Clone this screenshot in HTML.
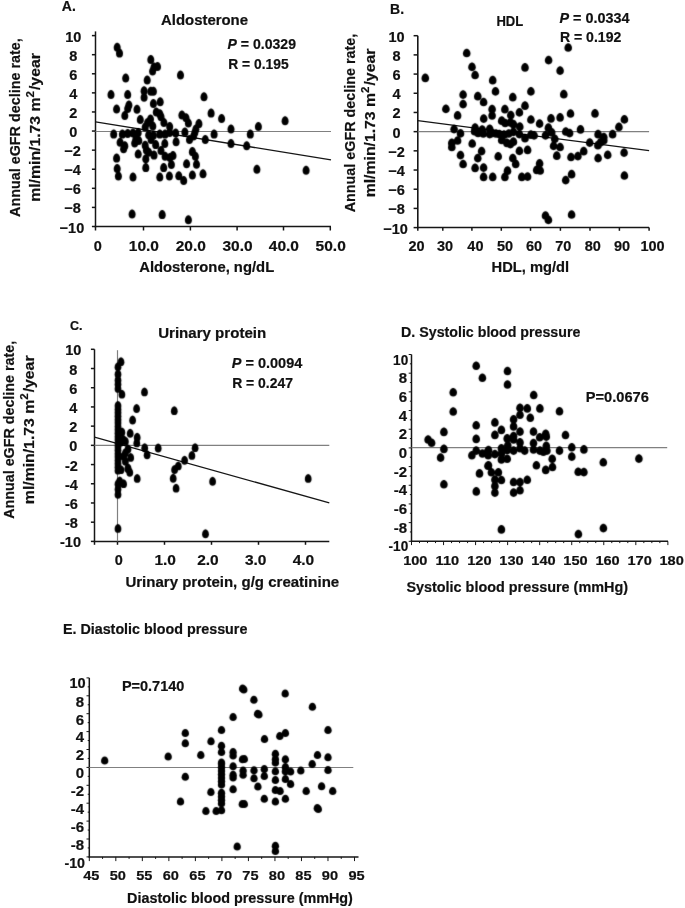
<!DOCTYPE html>
<html><head><meta charset="utf-8"><style>
html,body{margin:0;padding:0;background:#fff;}
svg{display:block;filter:grayscale(1);}
text{font-family:"Liberation Sans", sans-serif;fill:#111;stroke:#111;stroke-width:0.2px;}
</style></head><body>
<svg width="685" height="908" viewBox="0 0 685 908">
<rect width="685" height="908" fill="#fff"/>
<defs><path id="e0" d="M0.000,-4.500C1.750,-4.500 3.500,-2.250 3.500,0.540C3.500,3.060 2.100,4.500 0.000,4.500C-2.100,4.500 -3.500,3.060 -3.500,0.540C-3.500,-2.250 -1.750,-4.500 0.000,-4.500Z"/><path id="e1" d="M0.000,-4.350C1.900,-4.350 3.800,-2.175 3.800,0.522C3.800,2.958 2.280,4.350 0.000,4.350C-2.280,4.350 -3.800,2.958 -3.800,0.522C-3.800,-2.175 -1.900,-4.350 0.000,-4.350Z"/><path id="e2" d="M0.000,-4.450C1.700,-4.450 3.400,-2.225 3.400,0.534C3.400,3.026 2.040,4.450 0.000,4.450C-2.040,4.450 -3.400,3.026 -3.400,0.534C-3.400,-2.225 -1.700,-4.450 0.000,-4.450Z"/><path id="e3" d="M0.000,-4.300C1.900,-4.300 3.800,-2.150 3.800,0.516C3.800,2.924 2.280,4.300 0.000,4.300C-2.280,4.300 -3.800,2.924 -3.800,0.516C-3.800,-2.150 -1.900,-4.300 0.000,-4.300Z"/><path id="e4" d="M0.000,-4.000C1.850,-4.000 3.700,-2.000 3.700,0.480C3.700,2.720 2.220,4.000 0.000,4.000C-2.220,4.000 -3.700,2.720 -3.700,0.480C-3.700,-2.000 -1.850,-4.000 0.000,-4.000Z"/><filter id="soft" filterUnits="userSpaceOnUse" x="0" y="0" width="685" height="908"><feConvolveMatrix order="3" kernelMatrix="1 6 1 6 36 6 1 6 1" divisor="64" edgeMode="duplicate" preserveAlpha="false"/></filter></defs>
<g fill="#000">
<line x1="95.50" y1="31.40" x2="95.50" y2="227.20" stroke="#161616" stroke-width="1.5"/>
<line x1="94.80" y1="226.50" x2="331.00" y2="226.50" stroke="#161616" stroke-width="1.5"/>
<line x1="91.90" y1="226.50" x2="95.50" y2="226.50" stroke="#161616" stroke-width="1.5"/>
<line x1="91.90" y1="207.41" x2="95.50" y2="207.41" stroke="#161616" stroke-width="1.5"/>
<line x1="91.90" y1="188.32" x2="95.50" y2="188.32" stroke="#161616" stroke-width="1.5"/>
<line x1="91.90" y1="169.23" x2="95.50" y2="169.23" stroke="#161616" stroke-width="1.5"/>
<line x1="91.90" y1="150.14" x2="95.50" y2="150.14" stroke="#161616" stroke-width="1.5"/>
<line x1="91.90" y1="131.05" x2="95.50" y2="131.05" stroke="#161616" stroke-width="1.5"/>
<line x1="91.90" y1="111.96" x2="95.50" y2="111.96" stroke="#161616" stroke-width="1.5"/>
<line x1="91.90" y1="92.87" x2="95.50" y2="92.87" stroke="#161616" stroke-width="1.5"/>
<line x1="91.90" y1="73.78" x2="95.50" y2="73.78" stroke="#161616" stroke-width="1.5"/>
<line x1="91.90" y1="54.69" x2="95.50" y2="54.69" stroke="#161616" stroke-width="1.5"/>
<line x1="91.90" y1="35.60" x2="95.50" y2="35.60" stroke="#161616" stroke-width="1.5"/>
<line x1="95.50" y1="226.50" x2="95.50" y2="230.50" stroke="#161616" stroke-width="1.5"/>
<line x1="143.50" y1="226.50" x2="143.50" y2="230.50" stroke="#161616" stroke-width="1.5"/>
<line x1="190.40" y1="226.50" x2="190.40" y2="230.50" stroke="#161616" stroke-width="1.5"/>
<line x1="237.10" y1="226.50" x2="237.10" y2="230.50" stroke="#161616" stroke-width="1.5"/>
<line x1="283.50" y1="226.50" x2="283.50" y2="230.50" stroke="#161616" stroke-width="1.5"/>
<line x1="330.30" y1="226.50" x2="330.30" y2="230.50" stroke="#161616" stroke-width="1.5"/>
<line x1="95.50" y1="131.50" x2="331.00" y2="131.50" stroke="#808080" stroke-width="1.2"/>
<line x1="95.50" y1="121.89" x2="331.00" y2="159.80" stroke="#161616" stroke-width="1.3"/>
<line x1="417.80" y1="35.70" x2="417.80" y2="228.30" stroke="#161616" stroke-width="1.6"/>
<line x1="417.10" y1="227.60" x2="649.10" y2="227.60" stroke="#161616" stroke-width="1.5"/>
<line x1="413.60" y1="227.60" x2="417.80" y2="227.60" stroke="#161616" stroke-width="1.5"/>
<line x1="413.60" y1="208.41" x2="417.80" y2="208.41" stroke="#161616" stroke-width="1.5"/>
<line x1="413.60" y1="189.22" x2="417.80" y2="189.22" stroke="#161616" stroke-width="1.5"/>
<line x1="413.60" y1="170.03" x2="417.80" y2="170.03" stroke="#161616" stroke-width="1.5"/>
<line x1="413.60" y1="150.84" x2="417.80" y2="150.84" stroke="#161616" stroke-width="1.5"/>
<line x1="413.60" y1="131.65" x2="417.80" y2="131.65" stroke="#161616" stroke-width="1.5"/>
<line x1="413.60" y1="112.46" x2="417.80" y2="112.46" stroke="#161616" stroke-width="1.5"/>
<line x1="413.60" y1="93.27" x2="417.80" y2="93.27" stroke="#161616" stroke-width="1.5"/>
<line x1="413.60" y1="74.08" x2="417.80" y2="74.08" stroke="#161616" stroke-width="1.5"/>
<line x1="413.60" y1="54.89" x2="417.80" y2="54.89" stroke="#161616" stroke-width="1.5"/>
<line x1="413.60" y1="35.70" x2="417.80" y2="35.70" stroke="#161616" stroke-width="1.5"/>
<line x1="417.80" y1="227.60" x2="417.80" y2="230.80" stroke="#161616" stroke-width="1.5"/>
<line x1="442.80" y1="227.60" x2="442.80" y2="230.80" stroke="#161616" stroke-width="1.5"/>
<line x1="471.90" y1="227.60" x2="471.90" y2="230.80" stroke="#161616" stroke-width="1.5"/>
<line x1="501.30" y1="227.60" x2="501.30" y2="230.80" stroke="#161616" stroke-width="1.5"/>
<line x1="530.50" y1="227.60" x2="530.50" y2="230.80" stroke="#161616" stroke-width="1.5"/>
<line x1="560.40" y1="227.60" x2="560.40" y2="230.80" stroke="#161616" stroke-width="1.5"/>
<line x1="590.00" y1="227.60" x2="590.00" y2="230.80" stroke="#161616" stroke-width="1.5"/>
<line x1="619.40" y1="227.60" x2="619.40" y2="230.80" stroke="#161616" stroke-width="1.5"/>
<line x1="649.10" y1="227.60" x2="649.10" y2="230.80" stroke="#161616" stroke-width="1.5"/>
<line x1="417.80" y1="131.60" x2="649.10" y2="131.60" stroke="#808080" stroke-width="1.2"/>
<line x1="417.80" y1="120.60" x2="649.10" y2="150.60" stroke="#161616" stroke-width="1.3"/>
<line x1="94.50" y1="349.30" x2="94.50" y2="542.10" stroke="#161616" stroke-width="1.5"/>
<line x1="93.80" y1="541.40" x2="329.30" y2="541.40" stroke="#161616" stroke-width="1.5"/>
<line x1="90.90" y1="541.40" x2="94.50" y2="541.40" stroke="#161616" stroke-width="1.5"/>
<line x1="90.90" y1="522.19" x2="94.50" y2="522.19" stroke="#161616" stroke-width="1.5"/>
<line x1="90.90" y1="502.98" x2="94.50" y2="502.98" stroke="#161616" stroke-width="1.5"/>
<line x1="90.90" y1="483.77" x2="94.50" y2="483.77" stroke="#161616" stroke-width="1.5"/>
<line x1="90.90" y1="464.56" x2="94.50" y2="464.56" stroke="#161616" stroke-width="1.5"/>
<line x1="90.90" y1="445.35" x2="94.50" y2="445.35" stroke="#161616" stroke-width="1.5"/>
<line x1="90.90" y1="426.14" x2="94.50" y2="426.14" stroke="#161616" stroke-width="1.5"/>
<line x1="90.90" y1="406.93" x2="94.50" y2="406.93" stroke="#161616" stroke-width="1.5"/>
<line x1="90.90" y1="387.72" x2="94.50" y2="387.72" stroke="#161616" stroke-width="1.5"/>
<line x1="90.90" y1="368.51" x2="94.50" y2="368.51" stroke="#161616" stroke-width="1.5"/>
<line x1="90.90" y1="349.30" x2="94.50" y2="349.30" stroke="#161616" stroke-width="1.5"/>
<line x1="94.50" y1="541.40" x2="94.50" y2="544.80" stroke="#161616" stroke-width="1.5"/>
<line x1="117.50" y1="541.40" x2="117.50" y2="544.80" stroke="#161616" stroke-width="1.5"/>
<line x1="164.50" y1="541.40" x2="164.50" y2="544.80" stroke="#161616" stroke-width="1.5"/>
<line x1="211.50" y1="541.40" x2="211.50" y2="544.80" stroke="#161616" stroke-width="1.5"/>
<line x1="258.50" y1="541.40" x2="258.50" y2="544.80" stroke="#161616" stroke-width="1.5"/>
<line x1="305.50" y1="541.40" x2="305.50" y2="544.80" stroke="#161616" stroke-width="1.5"/>
<line x1="94.50" y1="445.40" x2="329.30" y2="445.40" stroke="#808080" stroke-width="1.2"/>
<line x1="117.50" y1="350.20" x2="117.50" y2="541.40" stroke="#808080" stroke-width="1.2"/>
<line x1="94.50" y1="437.19" x2="329.30" y2="502.80" stroke="#161616" stroke-width="1.3"/>
<line x1="411.50" y1="354.50" x2="411.50" y2="542.00" stroke="#161616" stroke-width="1.5"/>
<line x1="410.80" y1="541.30" x2="668.00" y2="541.30" stroke="#161616" stroke-width="1.5"/>
<line x1="408.70" y1="541.30" x2="411.50" y2="541.30" stroke="#161616" stroke-width="1.0"/>
<line x1="409.90" y1="531.96" x2="411.50" y2="531.96" stroke="#161616" stroke-width="1.0"/>
<line x1="408.70" y1="522.62" x2="411.50" y2="522.62" stroke="#161616" stroke-width="1.0"/>
<line x1="409.90" y1="513.28" x2="411.50" y2="513.28" stroke="#161616" stroke-width="1.0"/>
<line x1="408.70" y1="503.94" x2="411.50" y2="503.94" stroke="#161616" stroke-width="1.0"/>
<line x1="409.90" y1="494.60" x2="411.50" y2="494.60" stroke="#161616" stroke-width="1.0"/>
<line x1="408.70" y1="485.26" x2="411.50" y2="485.26" stroke="#161616" stroke-width="1.0"/>
<line x1="409.90" y1="475.92" x2="411.50" y2="475.92" stroke="#161616" stroke-width="1.0"/>
<line x1="408.70" y1="466.58" x2="411.50" y2="466.58" stroke="#161616" stroke-width="1.0"/>
<line x1="409.90" y1="457.24" x2="411.50" y2="457.24" stroke="#161616" stroke-width="1.0"/>
<line x1="408.70" y1="447.90" x2="411.50" y2="447.90" stroke="#161616" stroke-width="1.0"/>
<line x1="409.90" y1="438.56" x2="411.50" y2="438.56" stroke="#161616" stroke-width="1.0"/>
<line x1="408.70" y1="429.22" x2="411.50" y2="429.22" stroke="#161616" stroke-width="1.0"/>
<line x1="409.90" y1="419.88" x2="411.50" y2="419.88" stroke="#161616" stroke-width="1.0"/>
<line x1="408.70" y1="410.54" x2="411.50" y2="410.54" stroke="#161616" stroke-width="1.0"/>
<line x1="409.90" y1="401.20" x2="411.50" y2="401.20" stroke="#161616" stroke-width="1.0"/>
<line x1="408.70" y1="391.86" x2="411.50" y2="391.86" stroke="#161616" stroke-width="1.0"/>
<line x1="409.90" y1="382.52" x2="411.50" y2="382.52" stroke="#161616" stroke-width="1.0"/>
<line x1="408.70" y1="373.18" x2="411.50" y2="373.18" stroke="#161616" stroke-width="1.0"/>
<line x1="409.90" y1="363.84" x2="411.50" y2="363.84" stroke="#161616" stroke-width="1.0"/>
<line x1="408.70" y1="354.50" x2="411.50" y2="354.50" stroke="#161616" stroke-width="1.0"/>
<line x1="411.50" y1="541.30" x2="411.50" y2="545.10" stroke="#161616" stroke-width="1.0"/>
<line x1="419.51" y1="541.30" x2="419.51" y2="543.10" stroke="#161616" stroke-width="1.0"/>
<line x1="427.52" y1="541.30" x2="427.52" y2="543.10" stroke="#161616" stroke-width="1.0"/>
<line x1="435.53" y1="541.30" x2="435.53" y2="543.10" stroke="#161616" stroke-width="1.0"/>
<line x1="443.55" y1="541.30" x2="443.55" y2="545.10" stroke="#161616" stroke-width="1.0"/>
<line x1="451.56" y1="541.30" x2="451.56" y2="543.10" stroke="#161616" stroke-width="1.0"/>
<line x1="459.57" y1="541.30" x2="459.57" y2="543.10" stroke="#161616" stroke-width="1.0"/>
<line x1="467.58" y1="541.30" x2="467.58" y2="543.10" stroke="#161616" stroke-width="1.0"/>
<line x1="475.59" y1="541.30" x2="475.59" y2="545.10" stroke="#161616" stroke-width="1.0"/>
<line x1="483.60" y1="541.30" x2="483.60" y2="543.10" stroke="#161616" stroke-width="1.0"/>
<line x1="491.61" y1="541.30" x2="491.61" y2="543.10" stroke="#161616" stroke-width="1.0"/>
<line x1="499.62" y1="541.30" x2="499.62" y2="543.10" stroke="#161616" stroke-width="1.0"/>
<line x1="507.63" y1="541.30" x2="507.63" y2="545.10" stroke="#161616" stroke-width="1.0"/>
<line x1="515.65" y1="541.30" x2="515.65" y2="543.10" stroke="#161616" stroke-width="1.0"/>
<line x1="523.66" y1="541.30" x2="523.66" y2="543.10" stroke="#161616" stroke-width="1.0"/>
<line x1="531.67" y1="541.30" x2="531.67" y2="543.10" stroke="#161616" stroke-width="1.0"/>
<line x1="539.68" y1="541.30" x2="539.68" y2="545.10" stroke="#161616" stroke-width="1.0"/>
<line x1="547.69" y1="541.30" x2="547.69" y2="543.10" stroke="#161616" stroke-width="1.0"/>
<line x1="555.70" y1="541.30" x2="555.70" y2="543.10" stroke="#161616" stroke-width="1.0"/>
<line x1="563.71" y1="541.30" x2="563.71" y2="543.10" stroke="#161616" stroke-width="1.0"/>
<line x1="571.73" y1="541.30" x2="571.73" y2="545.10" stroke="#161616" stroke-width="1.0"/>
<line x1="579.74" y1="541.30" x2="579.74" y2="543.10" stroke="#161616" stroke-width="1.0"/>
<line x1="587.75" y1="541.30" x2="587.75" y2="543.10" stroke="#161616" stroke-width="1.0"/>
<line x1="595.76" y1="541.30" x2="595.76" y2="543.10" stroke="#161616" stroke-width="1.0"/>
<line x1="603.77" y1="541.30" x2="603.77" y2="545.10" stroke="#161616" stroke-width="1.0"/>
<line x1="611.78" y1="541.30" x2="611.78" y2="543.10" stroke="#161616" stroke-width="1.0"/>
<line x1="619.79" y1="541.30" x2="619.79" y2="543.10" stroke="#161616" stroke-width="1.0"/>
<line x1="627.80" y1="541.30" x2="627.80" y2="543.10" stroke="#161616" stroke-width="1.0"/>
<line x1="635.82" y1="541.30" x2="635.82" y2="545.10" stroke="#161616" stroke-width="1.0"/>
<line x1="643.83" y1="541.30" x2="643.83" y2="543.10" stroke="#161616" stroke-width="1.0"/>
<line x1="651.84" y1="541.30" x2="651.84" y2="543.10" stroke="#161616" stroke-width="1.0"/>
<line x1="659.85" y1="541.30" x2="659.85" y2="543.10" stroke="#161616" stroke-width="1.0"/>
<line x1="667.86" y1="541.30" x2="667.86" y2="545.10" stroke="#161616" stroke-width="1.0"/>
<line x1="411.50" y1="447.60" x2="667.20" y2="447.60" stroke="#808080" stroke-width="1.2"/>
<line x1="89.30" y1="677.90" x2="89.30" y2="857.60" stroke="#161616" stroke-width="1.5"/>
<line x1="88.60" y1="856.90" x2="358.50" y2="856.90" stroke="#161616" stroke-width="1.5"/>
<line x1="86.50" y1="856.90" x2="89.30" y2="856.90" stroke="#161616" stroke-width="1.0"/>
<line x1="87.70" y1="847.95" x2="89.30" y2="847.95" stroke="#161616" stroke-width="1.0"/>
<line x1="86.50" y1="839.00" x2="89.30" y2="839.00" stroke="#161616" stroke-width="1.0"/>
<line x1="87.70" y1="830.05" x2="89.30" y2="830.05" stroke="#161616" stroke-width="1.0"/>
<line x1="86.50" y1="821.10" x2="89.30" y2="821.10" stroke="#161616" stroke-width="1.0"/>
<line x1="87.70" y1="812.15" x2="89.30" y2="812.15" stroke="#161616" stroke-width="1.0"/>
<line x1="86.50" y1="803.20" x2="89.30" y2="803.20" stroke="#161616" stroke-width="1.0"/>
<line x1="87.70" y1="794.25" x2="89.30" y2="794.25" stroke="#161616" stroke-width="1.0"/>
<line x1="86.50" y1="785.30" x2="89.30" y2="785.30" stroke="#161616" stroke-width="1.0"/>
<line x1="87.70" y1="776.35" x2="89.30" y2="776.35" stroke="#161616" stroke-width="1.0"/>
<line x1="86.50" y1="767.40" x2="89.30" y2="767.40" stroke="#161616" stroke-width="1.0"/>
<line x1="87.70" y1="758.45" x2="89.30" y2="758.45" stroke="#161616" stroke-width="1.0"/>
<line x1="86.50" y1="749.50" x2="89.30" y2="749.50" stroke="#161616" stroke-width="1.0"/>
<line x1="87.70" y1="740.55" x2="89.30" y2="740.55" stroke="#161616" stroke-width="1.0"/>
<line x1="86.50" y1="731.60" x2="89.30" y2="731.60" stroke="#161616" stroke-width="1.0"/>
<line x1="87.70" y1="722.65" x2="89.30" y2="722.65" stroke="#161616" stroke-width="1.0"/>
<line x1="86.50" y1="713.70" x2="89.30" y2="713.70" stroke="#161616" stroke-width="1.0"/>
<line x1="87.70" y1="704.75" x2="89.30" y2="704.75" stroke="#161616" stroke-width="1.0"/>
<line x1="86.50" y1="695.80" x2="89.30" y2="695.80" stroke="#161616" stroke-width="1.0"/>
<line x1="87.70" y1="686.85" x2="89.30" y2="686.85" stroke="#161616" stroke-width="1.0"/>
<line x1="86.50" y1="677.90" x2="89.30" y2="677.90" stroke="#161616" stroke-width="1.0"/>
<line x1="89.30" y1="856.90" x2="89.30" y2="861.10" stroke="#161616" stroke-width="1.0"/>
<line x1="102.56" y1="856.90" x2="102.56" y2="858.90" stroke="#161616" stroke-width="1.0"/>
<line x1="115.82" y1="856.90" x2="115.82" y2="861.10" stroke="#161616" stroke-width="1.0"/>
<line x1="129.08" y1="856.90" x2="129.08" y2="858.90" stroke="#161616" stroke-width="1.0"/>
<line x1="142.34" y1="856.90" x2="142.34" y2="861.10" stroke="#161616" stroke-width="1.0"/>
<line x1="155.60" y1="856.90" x2="155.60" y2="858.90" stroke="#161616" stroke-width="1.0"/>
<line x1="168.86" y1="856.90" x2="168.86" y2="861.10" stroke="#161616" stroke-width="1.0"/>
<line x1="182.12" y1="856.90" x2="182.12" y2="858.90" stroke="#161616" stroke-width="1.0"/>
<line x1="195.38" y1="856.90" x2="195.38" y2="861.10" stroke="#161616" stroke-width="1.0"/>
<line x1="208.64" y1="856.90" x2="208.64" y2="858.90" stroke="#161616" stroke-width="1.0"/>
<line x1="221.90" y1="856.90" x2="221.90" y2="861.10" stroke="#161616" stroke-width="1.0"/>
<line x1="235.16" y1="856.90" x2="235.16" y2="858.90" stroke="#161616" stroke-width="1.0"/>
<line x1="248.42" y1="856.90" x2="248.42" y2="861.10" stroke="#161616" stroke-width="1.0"/>
<line x1="261.68" y1="856.90" x2="261.68" y2="858.90" stroke="#161616" stroke-width="1.0"/>
<line x1="274.94" y1="856.90" x2="274.94" y2="861.10" stroke="#161616" stroke-width="1.0"/>
<line x1="288.20" y1="856.90" x2="288.20" y2="858.90" stroke="#161616" stroke-width="1.0"/>
<line x1="301.46" y1="856.90" x2="301.46" y2="861.10" stroke="#161616" stroke-width="1.0"/>
<line x1="314.72" y1="856.90" x2="314.72" y2="858.90" stroke="#161616" stroke-width="1.0"/>
<line x1="327.98" y1="856.90" x2="327.98" y2="861.10" stroke="#161616" stroke-width="1.0"/>
<line x1="341.24" y1="856.90" x2="341.24" y2="858.90" stroke="#161616" stroke-width="1.0"/>
<line x1="354.50" y1="856.90" x2="354.50" y2="861.10" stroke="#161616" stroke-width="1.0"/>
<line x1="89.30" y1="767.50" x2="353.30" y2="767.50" stroke="#808080" stroke-width="1.2"/>
</g>
<g fill="#000" filter="url(#soft)">
<use href="#e0" x="117.2" y="47.3"/>
<use href="#e0" x="119.5" y="53.1"/>
<use href="#e0" x="150.8" y="59.4"/>
<use href="#e0" x="157.5" y="66.4"/>
<use href="#e0" x="154.0" y="67.1"/>
<use href="#e0" x="152.6" y="70.9"/>
<use href="#e0" x="125.7" y="77.9"/>
<use href="#e0" x="147.2" y="80.0"/>
<use href="#e0" x="111.0" y="94.5"/>
<use href="#e0" x="127.7" y="94.5"/>
<use href="#e0" x="144.1" y="90.7"/>
<use href="#e0" x="150.8" y="91.3"/>
<use href="#e0" x="153.4" y="91.3"/>
<use href="#e0" x="144.1" y="97.2"/>
<use href="#e0" x="180.5" y="75.0"/>
<use href="#e0" x="204.0" y="96.8"/>
<use href="#e0" x="153.4" y="103.4"/>
<use href="#e0" x="160.2" y="101.8"/>
<use href="#e0" x="128.9" y="104.9"/>
<use href="#e0" x="127.7" y="108.4"/>
<use href="#e0" x="116.6" y="109.0"/>
<use href="#e0" x="137.0" y="109.2"/>
<use href="#e0" x="124.8" y="115.4"/>
<use href="#e0" x="156.3" y="111.9"/>
<use href="#e0" x="159.8" y="113.7"/>
<use href="#e0" x="161.0" y="116.6"/>
<use href="#e0" x="140.3" y="119.5"/>
<use href="#e0" x="150.5" y="118.9"/>
<use href="#e0" x="147.6" y="122.4"/>
<use href="#e0" x="152.8" y="126.0"/>
<use href="#e0" x="145.2" y="127.1"/>
<use href="#e0" x="163.9" y="122.4"/>
<use href="#e0" x="169.7" y="126.5"/>
<use href="#e0" x="113.7" y="134.1"/>
<use href="#e0" x="122.4" y="134.1"/>
<use href="#e0" x="127.7" y="133.5"/>
<use href="#e0" x="133.0" y="133.0"/>
<use href="#e0" x="138.2" y="132.4"/>
<use href="#e0" x="148.7" y="134.7"/>
<use href="#e0" x="153.4" y="135.3"/>
<use href="#e0" x="159.8" y="134.1"/>
<use href="#e0" x="165.1" y="134.1"/>
<use href="#e0" x="169.7" y="132.4"/>
<use href="#e0" x="135.9" y="138.8"/>
<use href="#e0" x="138.8" y="140.5"/>
<use href="#e0" x="134.7" y="142.9"/>
<use href="#e0" x="120.1" y="142.3"/>
<use href="#e0" x="124.8" y="145.8"/>
<use href="#e0" x="123.6" y="148.7"/>
<use href="#e0" x="145.2" y="145.2"/>
<use href="#e0" x="151.1" y="139.4"/>
<use href="#e0" x="155.7" y="144.6"/>
<use href="#e0" x="164.8" y="143.5"/>
<use href="#e0" x="146.4" y="149.9"/>
<use href="#e0" x="148.7" y="152.2"/>
<use href="#e0" x="138.2" y="154.0"/>
<use href="#e0" x="154.0" y="155.1"/>
<use href="#e0" x="161.0" y="150.5"/>
<use href="#e0" x="165.1" y="156.3"/>
<use href="#e0" x="116.6" y="158.1"/>
<use href="#e0" x="145.8" y="158.7"/>
<use href="#e0" x="181.9" y="114.9"/>
<use href="#e0" x="186.0" y="117.8"/>
<use href="#e0" x="188.4" y="123.0"/>
<use href="#e0" x="198.9" y="123.6"/>
<use href="#e0" x="195.9" y="128.9"/>
<use href="#e0" x="194.8" y="132.4"/>
<use href="#e0" x="193.6" y="135.9"/>
<use href="#e0" x="211.1" y="113.1"/>
<use href="#e0" x="221.6" y="118.4"/>
<use href="#e0" x="231.0" y="128.9"/>
<use href="#e0" x="214.1" y="134.1"/>
<use href="#e0" x="205.3" y="139.4"/>
<use href="#e0" x="231.0" y="143.5"/>
<use href="#e0" x="175.7" y="133.0"/>
<use href="#e0" x="184.9" y="132.1"/>
<use href="#e0" x="189.5" y="139.4"/>
<use href="#e0" x="176.1" y="141.7"/>
<use href="#e0" x="192.4" y="151.6"/>
<use href="#e0" x="195.4" y="156.3"/>
<use href="#e0" x="186.6" y="163.8"/>
<use href="#e0" x="196.5" y="164.2"/>
<use href="#e0" x="258.4" y="126.4"/>
<use href="#e0" x="250.3" y="134.1"/>
<use href="#e0" x="246.7" y="145.8"/>
<use href="#e0" x="285.1" y="120.8"/>
<use href="#e0" x="117.2" y="168.4"/>
<use href="#e0" x="118.4" y="176.0"/>
<use href="#e0" x="133.0" y="177.0"/>
<use href="#e0" x="145.8" y="167.6"/>
<use href="#e0" x="163.7" y="167.6"/>
<use href="#e0" x="159.8" y="177.0"/>
<use href="#e0" x="169.4" y="176.0"/>
<use href="#e0" x="132.1" y="214.0"/>
<use href="#e0" x="162.2" y="214.6"/>
<use href="#e0" x="178.8" y="175.8"/>
<use href="#e0" x="183.7" y="180.5"/>
<use href="#e0" x="192.4" y="174.9"/>
<use href="#e0" x="203.0" y="173.7"/>
<use href="#e0" x="188.4" y="219.8"/>
<use href="#e0" x="256.9" y="169.2"/>
<use href="#e0" x="306.1" y="170.3"/>
<use href="#e0" x="169.9" y="157.4"/>
<use href="#e0" x="173.0" y="155.5"/>
<use href="#e0" x="171.4" y="164.5"/>
<use href="#e1" x="425.3" y="77.9"/>
<use href="#e1" x="466.7" y="53.0"/>
<use href="#e1" x="472.0" y="66.8"/>
<use href="#e1" x="475.1" y="75.0"/>
<use href="#e1" x="492.7" y="80.2"/>
<use href="#e1" x="495.5" y="91.3"/>
<use href="#e1" x="463.1" y="94.6"/>
<use href="#e1" x="477.8" y="96.2"/>
<use href="#e1" x="512.8" y="97.2"/>
<use href="#e1" x="525.0" y="67.4"/>
<use href="#e1" x="530.9" y="91.3"/>
<use href="#e1" x="548.6" y="60.1"/>
<use href="#e1" x="560.1" y="70.6"/>
<use href="#e1" x="563.8" y="94.2"/>
<use href="#e1" x="568.2" y="47.5"/>
<use href="#e1" x="483.6" y="102.0"/>
<use href="#e1" x="463.1" y="104.1"/>
<use href="#e1" x="445.9" y="108.8"/>
<use href="#e1" x="457.6" y="115.4"/>
<use href="#e1" x="483.7" y="118.6"/>
<use href="#e1" x="492.1" y="109.0"/>
<use href="#e1" x="492.1" y="115.4"/>
<use href="#e1" x="454.1" y="129.1"/>
<use href="#e1" x="460.5" y="133.3"/>
<use href="#e1" x="475.1" y="127.7"/>
<use href="#e1" x="474.6" y="131.2"/>
<use href="#e1" x="478.1" y="133.0"/>
<use href="#e1" x="482.2" y="129.5"/>
<use href="#e1" x="483.3" y="133.5"/>
<use href="#e1" x="489.7" y="128.9"/>
<use href="#e1" x="489.7" y="134.1"/>
<use href="#e1" x="492.5" y="133.0"/>
<use href="#e1" x="457.6" y="140.5"/>
<use href="#e1" x="451.8" y="142.9"/>
<use href="#e1" x="451.8" y="147.0"/>
<use href="#e1" x="472.2" y="143.5"/>
<use href="#e1" x="481.6" y="151.1"/>
<use href="#e1" x="460.5" y="155.1"/>
<use href="#e1" x="477.8" y="158.1"/>
<use href="#e1" x="463.1" y="164.0"/>
<use href="#e1" x="525.0" y="105.7"/>
<use href="#e1" x="504.9" y="109.2"/>
<use href="#e1" x="519.4" y="112.3"/>
<use href="#e1" x="510.8" y="115.1"/>
<use href="#e1" x="501.7" y="120.7"/>
<use href="#e1" x="505.2" y="123.0"/>
<use href="#e1" x="510.4" y="122.4"/>
<use href="#e1" x="513.4" y="124.2"/>
<use href="#e1" x="519.8" y="126.5"/>
<use href="#e1" x="530.9" y="119.5"/>
<use href="#e1" x="539.6" y="123.6"/>
<use href="#e1" x="551.0" y="118.4"/>
<use href="#e1" x="560.1" y="117.4"/>
<use href="#e1" x="570.5" y="113.5"/>
<use href="#e1" x="548.4" y="127.7"/>
<use href="#e1" x="551.7" y="132.4"/>
<use href="#e1" x="545.5" y="135.3"/>
<use href="#e1" x="554.8" y="138.8"/>
<use href="#e1" x="553.6" y="145.8"/>
<use href="#e1" x="560.1" y="147.0"/>
<use href="#e1" x="565.8" y="131.5"/>
<use href="#e1" x="530.9" y="134.7"/>
<use href="#e1" x="534.1" y="135.3"/>
<use href="#e1" x="525.0" y="138.2"/>
<use href="#e1" x="519.4" y="134.1"/>
<use href="#e1" x="496.0" y="133.5"/>
<use href="#e1" x="499.3" y="134.1"/>
<use href="#e1" x="504.0" y="134.7"/>
<use href="#e1" x="508.7" y="133.5"/>
<use href="#e1" x="513.4" y="131.8"/>
<use href="#e1" x="501.7" y="140.0"/>
<use href="#e1" x="506.9" y="142.9"/>
<use href="#e1" x="510.4" y="144.1"/>
<use href="#e1" x="513.4" y="141.7"/>
<use href="#e1" x="519.4" y="150.8"/>
<use href="#e1" x="527.6" y="149.9"/>
<use href="#e1" x="498.2" y="156.3"/>
<use href="#e1" x="512.8" y="158.1"/>
<use href="#e1" x="515.7" y="163.9"/>
<use href="#e1" x="539.6" y="163.3"/>
<use href="#e1" x="556.8" y="155.7"/>
<use href="#e1" x="571.0" y="157.0"/>
<use href="#e1" x="595.0" y="113.4"/>
<use href="#e1" x="624.4" y="119.3"/>
<use href="#e1" x="618.9" y="126.9"/>
<use href="#e1" x="580.5" y="129.4"/>
<use href="#e1" x="569.6" y="133.1"/>
<use href="#e1" x="598.1" y="134.2"/>
<use href="#e1" x="612.6" y="134.2"/>
<use href="#e1" x="603.8" y="137.0"/>
<use href="#e1" x="603.8" y="140.3"/>
<use href="#e1" x="600.5" y="142.3"/>
<use href="#e1" x="597.9" y="145.2"/>
<use href="#e1" x="589.7" y="142.6"/>
<use href="#e1" x="583.7" y="151.2"/>
<use href="#e1" x="577.9" y="156.1"/>
<use href="#e1" x="598.1" y="158.1"/>
<use href="#e1" x="607.7" y="154.8"/>
<use href="#e1" x="624.1" y="152.6"/>
<use href="#e1" x="475.1" y="167.9"/>
<use href="#e1" x="483.6" y="167.6"/>
<use href="#e1" x="483.6" y="176.9"/>
<use href="#e1" x="492.7" y="176.9"/>
<use href="#e1" x="504.9" y="176.9"/>
<use href="#e1" x="507.5" y="170.7"/>
<use href="#e1" x="521.8" y="176.9"/>
<use href="#e1" x="527.6" y="176.6"/>
<use href="#e1" x="536.7" y="169.9"/>
<use href="#e1" x="540.2" y="170.5"/>
<use href="#e1" x="565.7" y="180.1"/>
<use href="#e1" x="545.5" y="215.5"/>
<use href="#e1" x="548.4" y="219.8"/>
<use href="#e1" x="571.6" y="174.2"/>
<use href="#e1" x="624.4" y="175.5"/>
<use href="#e1" x="571.6" y="214.5"/>
<use href="#e2" x="121.0" y="361.6"/>
<use href="#e2" x="118.0" y="366.7"/>
<use href="#e2" x="118.0" y="373.9"/>
<use href="#e2" x="118.0" y="380.0"/>
<use href="#e2" x="118.0" y="384.0"/>
<use href="#e2" x="118.0" y="388.4"/>
<use href="#e2" x="121.9" y="394.1"/>
<use href="#e2" x="144.5" y="391.9"/>
<use href="#e2" x="136.6" y="408.5"/>
<use href="#e2" x="118.0" y="405.5"/>
<use href="#e2" x="118.0" y="408.9"/>
<use href="#e2" x="118.0" y="412.3"/>
<use href="#e2" x="118.0" y="415.7"/>
<use href="#e2" x="118.0" y="419.1"/>
<use href="#e2" x="118.0" y="422.5"/>
<use href="#e2" x="118.0" y="425.9"/>
<use href="#e2" x="118.0" y="429.3"/>
<use href="#e2" x="118.0" y="432.7"/>
<use href="#e2" x="118.0" y="436.1"/>
<use href="#e2" x="118.0" y="439.5"/>
<use href="#e2" x="118.0" y="442.9"/>
<use href="#e2" x="118.0" y="446.3"/>
<use href="#e2" x="118.0" y="449.7"/>
<use href="#e2" x="118.0" y="453.1"/>
<use href="#e2" x="118.0" y="456.5"/>
<use href="#e2" x="118.0" y="459.9"/>
<use href="#e2" x="118.0" y="463.3"/>
<use href="#e2" x="118.0" y="466.7"/>
<use href="#e2" x="118.0" y="470.1"/>
<use href="#e2" x="132.6" y="420.0"/>
<use href="#e2" x="130.2" y="433.3"/>
<use href="#e2" x="121.9" y="432.0"/>
<use href="#e2" x="137.2" y="437.2"/>
<use href="#e2" x="136.8" y="442.9"/>
<use href="#e2" x="125.4" y="441.2"/>
<use href="#e2" x="123.2" y="439.4"/>
<use href="#e2" x="128.0" y="449.0"/>
<use href="#e2" x="125.4" y="452.6"/>
<use href="#e2" x="123.6" y="456.1"/>
<use href="#e2" x="130.7" y="457.4"/>
<use href="#e2" x="125.4" y="461.3"/>
<use href="#e2" x="128.0" y="467.9"/>
<use href="#e2" x="144.7" y="447.7"/>
<use href="#e2" x="147.1" y="454.7"/>
<use href="#e2" x="158.2" y="448.0"/>
<use href="#e2" x="121.0" y="442.0"/>
<use href="#e2" x="121.0" y="469.6"/>
<use href="#e2" x="128.0" y="468.8"/>
<use href="#e2" x="129.8" y="472.3"/>
<use href="#e2" x="137.2" y="478.4"/>
<use href="#e2" x="119.7" y="481.0"/>
<use href="#e2" x="123.6" y="483.6"/>
<use href="#e2" x="118.0" y="483.6"/>
<use href="#e2" x="118.0" y="488.9"/>
<use href="#e2" x="118.0" y="494.2"/>
<use href="#e2" x="118.0" y="528.4"/>
<use href="#e2" x="174.3" y="410.6"/>
<use href="#e2" x="195.1" y="447.6"/>
<use href="#e2" x="191.9" y="455.4"/>
<use href="#e2" x="184.6" y="460.3"/>
<use href="#e2" x="178.3" y="465.9"/>
<use href="#e2" x="174.6" y="469.5"/>
<use href="#e2" x="173.2" y="478.3"/>
<use href="#e2" x="176.1" y="488.1"/>
<use href="#e2" x="212.6" y="481.2"/>
<use href="#e2" x="205.5" y="533.7"/>
<use href="#e2" x="308.2" y="478.4"/>
<use href="#e3" x="476.2" y="365.8"/>
<use href="#e3" x="482.4" y="377.8"/>
<use href="#e3" x="453.2" y="392.3"/>
<use href="#e3" x="453.2" y="411.5"/>
<use href="#e3" x="507.5" y="371.0"/>
<use href="#e3" x="507.5" y="384.5"/>
<use href="#e3" x="533.7" y="395.0"/>
<use href="#e3" x="520.0" y="407.8"/>
<use href="#e3" x="520.0" y="414.8"/>
<use href="#e3" x="527.3" y="408.4"/>
<use href="#e3" x="539.9" y="408.4"/>
<use href="#e3" x="559.5" y="411.3"/>
<use href="#e3" x="530.3" y="417.7"/>
<use href="#e3" x="513.6" y="419.2"/>
<use href="#e3" x="494.9" y="422.4"/>
<use href="#e3" x="443.9" y="431.9"/>
<use href="#e3" x="428.1" y="439.5"/>
<use href="#e3" x="431.6" y="442.8"/>
<use href="#e3" x="443.9" y="448.9"/>
<use href="#e3" x="440.6" y="457.6"/>
<use href="#e3" x="443.9" y="484.3"/>
<use href="#e3" x="476.2" y="425.3"/>
<use href="#e3" x="476.2" y="438.9"/>
<use href="#e3" x="476.2" y="450.6"/>
<use href="#e3" x="471.9" y="455.3"/>
<use href="#e3" x="482.4" y="453.5"/>
<use href="#e3" x="487.7" y="451.2"/>
<use href="#e3" x="488.2" y="455.3"/>
<use href="#e3" x="488.0" y="465.8"/>
<use href="#e3" x="479.5" y="473.4"/>
<use href="#e3" x="513.6" y="426.4"/>
<use href="#e3" x="501.4" y="429.9"/>
<use href="#e3" x="520.0" y="431.6"/>
<use href="#e3" x="533.5" y="431.6"/>
<use href="#e3" x="494.9" y="434.9"/>
<use href="#e3" x="545.7" y="433.7"/>
<use href="#e3" x="546.3" y="436.6"/>
<use href="#e3" x="539.7" y="437.2"/>
<use href="#e3" x="513.6" y="436.0"/>
<use href="#e3" x="513.6" y="439.5"/>
<use href="#e3" x="507.2" y="438.4"/>
<use href="#e3" x="520.0" y="442.4"/>
<use href="#e3" x="533.5" y="443.0"/>
<use href="#e3" x="507.8" y="445.4"/>
<use href="#e3" x="501.4" y="448.3"/>
<use href="#e3" x="546.3" y="445.9"/>
<use href="#e3" x="488.5" y="450.0"/>
<use href="#e3" x="494.9" y="454.1"/>
<use href="#e3" x="501.4" y="453.5"/>
<use href="#e3" x="507.2" y="450.0"/>
<use href="#e3" x="513.6" y="450.6"/>
<use href="#e3" x="520.0" y="448.3"/>
<use href="#e3" x="524.7" y="450.6"/>
<use href="#e3" x="533.5" y="449.5"/>
<use href="#e3" x="539.9" y="450.6"/>
<use href="#e3" x="543.4" y="451.8"/>
<use href="#e3" x="546.9" y="450.6"/>
<use href="#e3" x="559.5" y="450.6"/>
<use href="#e3" x="501.4" y="459.4"/>
<use href="#e3" x="507.2" y="458.8"/>
<use href="#e3" x="552.2" y="458.8"/>
<use href="#e3" x="488.5" y="465.2"/>
<use href="#e3" x="536.4" y="465.2"/>
<use href="#e3" x="545.7" y="469.9"/>
<use href="#e3" x="552.5" y="467.0"/>
<use href="#e3" x="491.4" y="472.2"/>
<use href="#e3" x="498.4" y="472.2"/>
<use href="#e3" x="494.9" y="479.5"/>
<use href="#e3" x="501.4" y="480.0"/>
<use href="#e3" x="513.6" y="482.0"/>
<use href="#e3" x="520.0" y="482.0"/>
<use href="#e3" x="527.3" y="479.8"/>
<use href="#e3" x="565.5" y="435.0"/>
<use href="#e3" x="571.8" y="447.2"/>
<use href="#e3" x="583.9" y="449.4"/>
<use href="#e3" x="571.8" y="456.6"/>
<use href="#e3" x="603.3" y="462.3"/>
<use href="#e3" x="638.9" y="458.6"/>
<use href="#e3" x="578.2" y="471.7"/>
<use href="#e3" x="583.9" y="472.1"/>
<use href="#e3" x="476.3" y="491.4"/>
<use href="#e3" x="494.9" y="485.9"/>
<use href="#e3" x="494.9" y="492.6"/>
<use href="#e3" x="520.0" y="490.3"/>
<use href="#e3" x="513.6" y="492.6"/>
<use href="#e3" x="501.4" y="529.4"/>
<use href="#e3" x="578.4" y="534.1"/>
<use href="#e3" x="603.4" y="528.1"/>
<use href="#e4" x="242.6" y="688.5"/>
<use href="#e4" x="243.8" y="689.4"/>
<use href="#e4" x="253.9" y="699.8"/>
<use href="#e4" x="257.6" y="713.8"/>
<use href="#e4" x="258.9" y="714.6"/>
<use href="#e4" x="233.1" y="717.0"/>
<use href="#e4" x="221.5" y="730.1"/>
<use href="#e4" x="185.3" y="733.1"/>
<use href="#e4" x="285.2" y="693.6"/>
<use href="#e4" x="312.4" y="706.8"/>
<use href="#e4" x="328.0" y="730.1"/>
<use href="#e4" x="285.4" y="733.1"/>
<use href="#e4" x="279.8" y="736.0"/>
<use href="#e4" x="264.5" y="739.0"/>
<use href="#e4" x="104.7" y="760.5"/>
<use href="#e4" x="168.2" y="756.5"/>
<use href="#e4" x="185.3" y="743.2"/>
<use href="#e4" x="211.0" y="741.2"/>
<use href="#e4" x="200.8" y="755.1"/>
<use href="#e4" x="185.3" y="776.8"/>
<use href="#e4" x="210.9" y="792.0"/>
<use href="#e4" x="180.5" y="801.5"/>
<use href="#e4" x="221.5" y="745.7"/>
<use href="#e4" x="221.5" y="751.9"/>
<use href="#e4" x="221.5" y="762.5"/>
<use href="#e4" x="221.5" y="763.5"/>
<use href="#e4" x="221.5" y="767"/>
<use href="#e4" x="221.5" y="770.5"/>
<use href="#e4" x="221.5" y="774"/>
<use href="#e4" x="221.5" y="777.5"/>
<use href="#e4" x="221.5" y="781"/>
<use href="#e4" x="221.5" y="784.5"/>
<use href="#e4" x="221.5" y="792.8"/>
<use href="#e4" x="221.5" y="796.2"/>
<use href="#e4" x="221.5" y="799.7"/>
<use href="#e4" x="221.5" y="803.2"/>
<use href="#e4" x="221.5" y="810.2"/>
<use href="#e4" x="233.1" y="751.9"/>
<use href="#e4" x="233.1" y="755.4"/>
<use href="#e4" x="233.1" y="766.3"/>
<use href="#e4" x="233.1" y="774.7"/>
<use href="#e4" x="233.1" y="777.6"/>
<use href="#e4" x="233.1" y="789.3"/>
<use href="#e4" x="242.5" y="759.3"/>
<use href="#e4" x="244.3" y="759.1"/>
<use href="#e4" x="243.1" y="770.6"/>
<use href="#e4" x="243.1" y="774.7"/>
<use href="#e4" x="242.3" y="803.9"/>
<use href="#e4" x="244.3" y="804.1"/>
<use href="#e4" x="254.0" y="770.3"/>
<use href="#e4" x="254.0" y="778.2"/>
<use href="#e4" x="257.9" y="786.4"/>
<use href="#e4" x="275.4" y="753.7"/>
<use href="#e4" x="275.4" y="758.9"/>
<use href="#e4" x="275.4" y="762.4"/>
<use href="#e4" x="285.4" y="759.3"/>
<use href="#e4" x="264.3" y="768.9"/>
<use href="#e4" x="275.4" y="771.2"/>
<use href="#e4" x="285.4" y="767.1"/>
<use href="#e4" x="285.4" y="771.2"/>
<use href="#e4" x="290.6" y="771.4"/>
<use href="#e4" x="300.8" y="770.6"/>
<use href="#e4" x="312.2" y="764.0"/>
<use href="#e4" x="317.5" y="755.1"/>
<use href="#e4" x="328.0" y="757.2"/>
<use href="#e4" x="328.0" y="770.0"/>
<use href="#e4" x="264.3" y="776.1"/>
<use href="#e4" x="275.4" y="780.0"/>
<use href="#e4" x="285.4" y="779.1"/>
<use href="#e4" x="290.6" y="784.1"/>
<use href="#e4" x="275.4" y="789.9"/>
<use href="#e4" x="280.1" y="791.1"/>
<use href="#e4" x="306.2" y="791.1"/>
<use href="#e4" x="321.6" y="786.2"/>
<use href="#e4" x="332.7" y="791.1"/>
<use href="#e4" x="264.3" y="798.8"/>
<use href="#e4" x="275.4" y="801.5"/>
<use href="#e4" x="285.4" y="798.8"/>
<use href="#e4" x="317.3" y="808.0"/>
<use href="#e4" x="318.3" y="809.0"/>
<use href="#e4" x="216.2" y="811.1"/>
<use href="#e4" x="205.9" y="811.1"/>
<use href="#e4" x="237.2" y="846.4"/>
<use href="#e4" x="275.4" y="845.8"/>
<use href="#e4" x="275.4" y="851.1"/>
</g>
<g fill="#000">
<text x="61.80" y="11.20" font-size="14" text-anchor="start" font-weight="bold">A.</text>
<text x="161.00" y="24.60" font-size="14" text-anchor="start" font-weight="bold" textLength="87" lengthAdjust="spacingAndGlyphs">Aldosterone</text>
<text x="227.6" y="49.3" font-size="14" font-weight="bold" textLength="68.4" lengthAdjust="spacingAndGlyphs"><tspan font-style="italic">P</tspan> = 0.0329</text>
<text x="228.30" y="69.00" font-size="14" text-anchor="start" font-weight="bold" textLength="60.3" lengthAdjust="spacingAndGlyphs">R = 0.195</text>
<text transform="translate(20.0,127.6) rotate(-90)" font-size="14.5" font-weight="bold" text-anchor="middle" textLength="178.6" lengthAdjust="spacingAndGlyphs">Annual eGFR decline rate,</text>
<text transform="translate(40.3,127.5) rotate(-90)" font-size="14.5" font-weight="bold" text-anchor="middle" textLength="148.7" lengthAdjust="spacingAndGlyphs">ml/min/1.73 m<tspan font-size="10.5" dy="-6.5">2</tspan><tspan dy="6.5" dx="1">/year</tspan></text>
<text x="71.90" y="232.50" font-size="14.5" text-anchor="middle" font-weight="bold">−10</text>
<text x="72.60" y="213.41" font-size="14.5" text-anchor="middle" font-weight="bold">−8</text>
<text x="72.60" y="194.32" font-size="14.5" text-anchor="middle" font-weight="bold">−6</text>
<text x="72.60" y="175.23" font-size="14.5" text-anchor="middle" font-weight="bold">−4</text>
<text x="72.60" y="156.14" font-size="14.5" text-anchor="middle" font-weight="bold">−2</text>
<text x="73.20" y="137.05" font-size="14.5" text-anchor="middle" font-weight="bold">0</text>
<text x="73.20" y="117.96" font-size="14.5" text-anchor="middle" font-weight="bold">2</text>
<text x="73.20" y="98.87" font-size="14.5" text-anchor="middle" font-weight="bold">4</text>
<text x="73.20" y="79.78" font-size="14.5" text-anchor="middle" font-weight="bold">6</text>
<text x="73.20" y="60.69" font-size="14.5" text-anchor="middle" font-weight="bold">8</text>
<text x="73.20" y="41.60" font-size="14.5" text-anchor="middle" font-weight="bold">10</text>
<text transform="translate(97.80,250.80) scale(1.0,1)" font-size="14.5" text-anchor="middle" font-weight="bold">0</text>
<text transform="translate(143.90,250.80) scale(1.07,1)" font-size="14.5" text-anchor="middle" font-weight="bold">10.0</text>
<text transform="translate(190.80,250.80) scale(1.07,1)" font-size="14.5" text-anchor="middle" font-weight="bold">20.0</text>
<text transform="translate(237.50,250.80) scale(1.07,1)" font-size="14.5" text-anchor="middle" font-weight="bold">30.0</text>
<text transform="translate(283.90,250.80) scale(1.07,1)" font-size="14.5" text-anchor="middle" font-weight="bold">40.0</text>
<text transform="translate(330.70,250.80) scale(1.07,1)" font-size="14.5" text-anchor="middle" font-weight="bold">50.0</text>
<text x="139.20" y="272.40" font-size="14.5" text-anchor="start" font-weight="bold" textLength="135" lengthAdjust="spacingAndGlyphs">Aldosterone, ng/dL</text>
<text x="390.10" y="14.40" font-size="14" text-anchor="start" font-weight="bold">B.</text>
<text x="496.40" y="25.50" font-size="14" text-anchor="start" font-weight="bold" textLength="26.8" lengthAdjust="spacingAndGlyphs">HDL</text>
<text x="559.4" y="22.7" font-size="14" font-weight="bold" textLength="70" lengthAdjust="spacingAndGlyphs"><tspan font-style="italic">P</tspan> = 0.0334</text>
<text x="559.90" y="42.30" font-size="14" text-anchor="start" font-weight="bold" textLength="61.4" lengthAdjust="spacingAndGlyphs">R = 0.192</text>
<text transform="translate(355.0,123.0) rotate(-90)" font-size="14.5" font-weight="bold" text-anchor="middle" textLength="178.6" lengthAdjust="spacingAndGlyphs">Annual eGFR decline rate,</text>
<text transform="translate(375.3,123.0) rotate(-90)" font-size="14.5" font-weight="bold" text-anchor="middle" textLength="148.7" lengthAdjust="spacingAndGlyphs">ml/min/1.73 m<tspan font-size="10.5" dy="-6.5">2</tspan><tspan dy="6.5" dx="1">/year</tspan></text>
<text x="395.50" y="233.60" font-size="14.5" text-anchor="middle" font-weight="bold">−10</text>
<text x="396.50" y="214.41" font-size="14.5" text-anchor="middle" font-weight="bold">−8</text>
<text x="396.50" y="195.22" font-size="14.5" text-anchor="middle" font-weight="bold">−6</text>
<text x="396.50" y="176.03" font-size="14.5" text-anchor="middle" font-weight="bold">−4</text>
<text x="396.50" y="156.84" font-size="14.5" text-anchor="middle" font-weight="bold">−2</text>
<text x="396.50" y="137.65" font-size="14.5" text-anchor="middle" font-weight="bold">0</text>
<text x="396.50" y="118.46" font-size="14.5" text-anchor="middle" font-weight="bold">2</text>
<text x="396.50" y="99.27" font-size="14.5" text-anchor="middle" font-weight="bold">4</text>
<text x="396.50" y="80.08" font-size="14.5" text-anchor="middle" font-weight="bold">6</text>
<text x="396.50" y="60.89" font-size="14.5" text-anchor="middle" font-weight="bold">8</text>
<text x="396.50" y="41.70" font-size="14.5" text-anchor="middle" font-weight="bold">10</text>
<text x="416.50" y="250.80" font-size="14.5" text-anchor="middle" font-weight="bold">20</text>
<text x="445.10" y="250.80" font-size="14.5" text-anchor="middle" font-weight="bold">30</text>
<text x="475.40" y="250.80" font-size="14.5" text-anchor="middle" font-weight="bold">40</text>
<text x="505.00" y="250.80" font-size="14.5" text-anchor="middle" font-weight="bold">50</text>
<text x="534.10" y="250.80" font-size="14.5" text-anchor="middle" font-weight="bold">60</text>
<text x="563.30" y="250.80" font-size="14.5" text-anchor="middle" font-weight="bold">70</text>
<text x="592.70" y="250.80" font-size="14.5" text-anchor="middle" font-weight="bold">80</text>
<text x="622.00" y="250.80" font-size="14.5" text-anchor="middle" font-weight="bold">90</text>
<text x="652.60" y="250.80" font-size="14.5" text-anchor="middle" font-weight="bold">100</text>
<text x="491.60" y="272.40" font-size="14.5" text-anchor="start" font-weight="bold" textLength="77.5" lengthAdjust="spacingAndGlyphs">HDL, mg/dl</text>
<text x="70.10" y="330.40" font-size="12.5" text-anchor="start" font-weight="bold">C.</text>
<text x="158.20" y="338.00" font-size="14" text-anchor="start" font-weight="bold" textLength="108" lengthAdjust="spacingAndGlyphs">Urinary protein</text>
<text x="231.8" y="367.7" font-size="14" font-weight="bold" textLength="70.5" lengthAdjust="spacingAndGlyphs"><tspan font-style="italic">P</tspan> = 0.0094</text>
<text x="232.20" y="387.50" font-size="14" text-anchor="start" font-weight="bold" textLength="60.8" lengthAdjust="spacingAndGlyphs">R = 0.247</text>
<text transform="translate(14.0,429.8) rotate(-90)" font-size="14.5" font-weight="bold" text-anchor="middle" textLength="177.8" lengthAdjust="spacingAndGlyphs">Annual eGFR decline rate,</text>
<text transform="translate(34.3,429.8) rotate(-90)" font-size="14.5" font-weight="bold" text-anchor="middle" textLength="148.7" lengthAdjust="spacingAndGlyphs">ml/min/1.73 m<tspan font-size="10.5" dy="-6.5">2</tspan><tspan dy="6.5" dx="1">/year</tspan></text>
<text x="70.50" y="547.40" font-size="14.5" text-anchor="middle" font-weight="bold">-10</text>
<text x="71.40" y="528.19" font-size="14.5" text-anchor="middle" font-weight="bold">-8</text>
<text x="71.40" y="508.98" font-size="14.5" text-anchor="middle" font-weight="bold">-6</text>
<text x="71.40" y="489.77" font-size="14.5" text-anchor="middle" font-weight="bold">-4</text>
<text x="71.40" y="470.56" font-size="14.5" text-anchor="middle" font-weight="bold">-2</text>
<text x="73.30" y="451.35" font-size="14.5" text-anchor="middle" font-weight="bold">0</text>
<text x="73.30" y="432.14" font-size="14.5" text-anchor="middle" font-weight="bold">2</text>
<text x="73.30" y="412.93" font-size="14.5" text-anchor="middle" font-weight="bold">4</text>
<text x="73.30" y="393.72" font-size="14.5" text-anchor="middle" font-weight="bold">6</text>
<text x="73.30" y="374.51" font-size="14.5" text-anchor="middle" font-weight="bold">8</text>
<text x="73.30" y="355.30" font-size="14.5" text-anchor="middle" font-weight="bold">10</text>
<text transform="translate(118.90,565.20) scale(1.0,1)" font-size="14.5" text-anchor="middle" font-weight="bold">0</text>
<text transform="translate(165.20,565.20) scale(1.07,1)" font-size="14.5" text-anchor="middle" font-weight="bold">1.0</text>
<text transform="translate(207.90,565.20) scale(1.07,1)" font-size="14.5" text-anchor="middle" font-weight="bold">2.0</text>
<text transform="translate(255.70,565.20) scale(1.07,1)" font-size="14.5" text-anchor="middle" font-weight="bold">3.0</text>
<text transform="translate(303.40,565.20) scale(1.07,1)" font-size="14.5" text-anchor="middle" font-weight="bold">4.0</text>
<text x="125.40" y="587.40" font-size="14.5" text-anchor="start" font-weight="bold" textLength="213.8" lengthAdjust="spacingAndGlyphs">Urinary protein, g/g creatinine</text>
<text x="401.10" y="336.90" font-size="14.5" text-anchor="start" font-weight="bold" textLength="179.3" lengthAdjust="spacingAndGlyphs">D. Systolic blood pressure</text>
<text x="585.80" y="402.20" font-size="14" text-anchor="start" font-weight="bold" textLength="63" lengthAdjust="spacingAndGlyphs">P=0.0676</text>
<text transform="translate(408.20,551.30) scale(0.97,1)" font-size="14" text-anchor="end" font-weight="bold">-10</text>
<text transform="translate(407.00,532.62) scale(1.07,1)" font-size="14" text-anchor="end" font-weight="bold">-8</text>
<text transform="translate(407.00,513.94) scale(1.07,1)" font-size="14" text-anchor="end" font-weight="bold">-6</text>
<text transform="translate(407.00,495.26) scale(1.07,1)" font-size="14" text-anchor="end" font-weight="bold">-4</text>
<text transform="translate(407.00,476.58) scale(1.07,1)" font-size="14" text-anchor="end" font-weight="bold">-2</text>
<text transform="translate(407.00,457.90) scale(1.07,1)" font-size="14" text-anchor="end" font-weight="bold">0</text>
<text transform="translate(407.00,439.22) scale(1.07,1)" font-size="14" text-anchor="end" font-weight="bold">2</text>
<text transform="translate(407.00,420.54) scale(1.07,1)" font-size="14" text-anchor="end" font-weight="bold">4</text>
<text transform="translate(407.00,401.86) scale(1.07,1)" font-size="14" text-anchor="end" font-weight="bold">6</text>
<text transform="translate(407.00,383.18) scale(1.07,1)" font-size="14" text-anchor="end" font-weight="bold">8</text>
<text transform="translate(408.20,364.50) scale(0.97,1)" font-size="14" text-anchor="end" font-weight="bold">10</text>
<text transform="translate(415.30,565.00) scale(1.08,1)" font-size="13.5" text-anchor="middle" font-weight="bold">100</text>
<text transform="translate(447.35,565.00) scale(1.08,1)" font-size="13.5" text-anchor="middle" font-weight="bold">110</text>
<text transform="translate(479.39,565.00) scale(1.08,1)" font-size="13.5" text-anchor="middle" font-weight="bold">120</text>
<text transform="translate(511.44,565.00) scale(1.08,1)" font-size="13.5" text-anchor="middle" font-weight="bold">130</text>
<text transform="translate(543.48,565.00) scale(1.08,1)" font-size="13.5" text-anchor="middle" font-weight="bold">140</text>
<text transform="translate(575.52,565.00) scale(1.08,1)" font-size="13.5" text-anchor="middle" font-weight="bold">150</text>
<text transform="translate(607.57,565.00) scale(1.08,1)" font-size="13.5" text-anchor="middle" font-weight="bold">160</text>
<text transform="translate(639.62,565.00) scale(1.08,1)" font-size="13.5" text-anchor="middle" font-weight="bold">170</text>
<text transform="translate(671.66,565.00) scale(1.08,1)" font-size="13.5" text-anchor="middle" font-weight="bold">180</text>
<text x="406.40" y="591.80" font-size="14.5" text-anchor="start" font-weight="bold" textLength="221.6" lengthAdjust="spacingAndGlyphs">Systolic blood pressure (mmHg)</text>
<text x="62.90" y="634.00" font-size="14.5" text-anchor="start" font-weight="bold" textLength="184.5" lengthAdjust="spacingAndGlyphs">E. Diastolic blood pressure</text>
<text x="121.90" y="691.20" font-size="14" text-anchor="start" font-weight="bold" textLength="62.5" lengthAdjust="spacingAndGlyphs">P=0.7140</text>
<text transform="translate(85.00,867.70) scale(1.02,1)" font-size="14" text-anchor="end" font-weight="bold">-10</text>
<text transform="translate(84.00,849.80) scale(1.07,1)" font-size="14" text-anchor="end" font-weight="bold">-8</text>
<text transform="translate(84.00,831.90) scale(1.07,1)" font-size="14" text-anchor="end" font-weight="bold">-6</text>
<text transform="translate(84.00,814.00) scale(1.07,1)" font-size="14" text-anchor="end" font-weight="bold">-4</text>
<text transform="translate(84.00,796.10) scale(1.07,1)" font-size="14" text-anchor="end" font-weight="bold">-2</text>
<text transform="translate(84.00,778.20) scale(1.07,1)" font-size="14" text-anchor="end" font-weight="bold">0</text>
<text transform="translate(84.00,760.30) scale(1.07,1)" font-size="14" text-anchor="end" font-weight="bold">2</text>
<text transform="translate(84.00,742.40) scale(1.07,1)" font-size="14" text-anchor="end" font-weight="bold">4</text>
<text transform="translate(84.00,724.50) scale(1.07,1)" font-size="14" text-anchor="end" font-weight="bold">6</text>
<text transform="translate(84.00,706.60) scale(1.07,1)" font-size="14" text-anchor="end" font-weight="bold">8</text>
<text transform="translate(85.60,688.20) scale(1.04,1)" font-size="14" text-anchor="end" font-weight="bold">10</text>
<text transform="translate(91.30,880.20) scale(1.08,1)" font-size="13.5" text-anchor="middle" font-weight="bold">45</text>
<text transform="translate(117.82,880.20) scale(1.08,1)" font-size="13.5" text-anchor="middle" font-weight="bold">50</text>
<text transform="translate(144.34,880.20) scale(1.08,1)" font-size="13.5" text-anchor="middle" font-weight="bold">55</text>
<text transform="translate(170.86,880.20) scale(1.08,1)" font-size="13.5" text-anchor="middle" font-weight="bold">60</text>
<text transform="translate(197.38,880.20) scale(1.08,1)" font-size="13.5" text-anchor="middle" font-weight="bold">65</text>
<text transform="translate(223.90,880.20) scale(1.08,1)" font-size="13.5" text-anchor="middle" font-weight="bold">70</text>
<text transform="translate(250.42,880.20) scale(1.08,1)" font-size="13.5" text-anchor="middle" font-weight="bold">75</text>
<text transform="translate(276.94,880.20) scale(1.08,1)" font-size="13.5" text-anchor="middle" font-weight="bold">80</text>
<text transform="translate(303.46,880.20) scale(1.08,1)" font-size="13.5" text-anchor="middle" font-weight="bold">85</text>
<text transform="translate(329.98,880.20) scale(1.08,1)" font-size="13.5" text-anchor="middle" font-weight="bold">90</text>
<text transform="translate(356.50,880.20) scale(1.08,1)" font-size="13.5" text-anchor="middle" font-weight="bold">95</text>
<text x="127.10" y="903.00" font-size="14.5" text-anchor="start" font-weight="bold" textLength="225.8" lengthAdjust="spacingAndGlyphs">Diastolic blood pressure (mmHg)</text>
</g>
</svg>
</body></html>
